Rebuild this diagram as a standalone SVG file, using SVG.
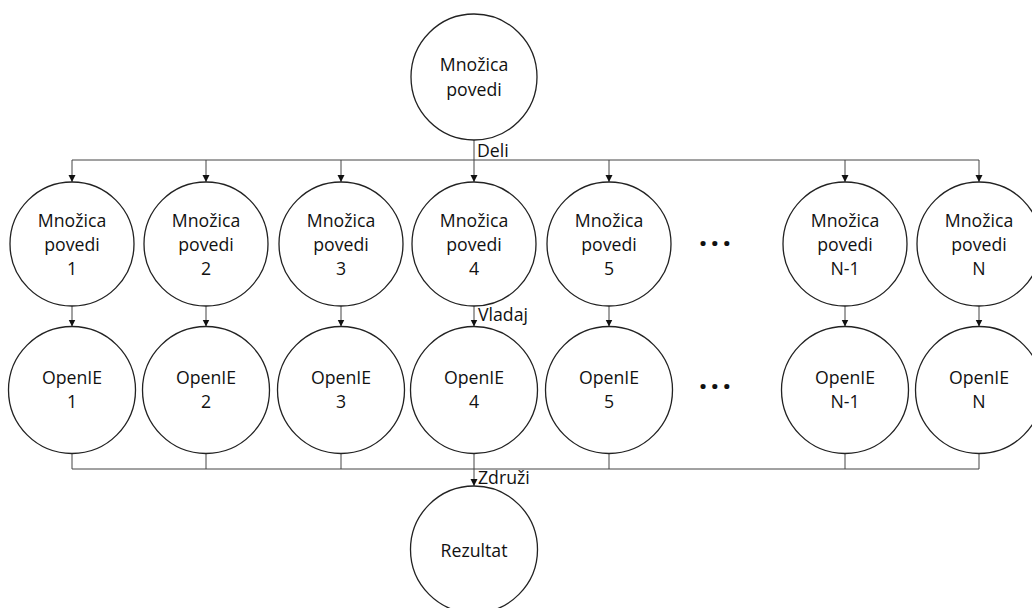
<svg xmlns="http://www.w3.org/2000/svg" width="1032" height="608" viewBox="0 0 1032 608">
  <defs>
    <marker id="arrow" markerUnits="userSpaceOnUse" markerWidth="8" markerHeight="8" refX="7" refY="3.5" orient="auto">
      <path d="M0,0 L7,3.5 L0,7 Z" fill="#111"/>
    </marker>
    <style>
      .node circle { fill: #fff; stroke: #222; stroke-width: 1.3; }
      .node text { font-family: "Open Sans", "Liberation Sans", sans-serif; font-size: 17.7px; fill: #111; text-anchor: middle; }
      .conn line, .conn path { stroke: #444; stroke-width: 1; fill: none; }
      .conn .arr { marker-end: url(#arrow); }
      .lbl { font-family: "Open Sans", "Liberation Sans", sans-serif; font-size: 17.7px; fill: #111; }
      .dots { font-family: "Open Sans", "Liberation Sans", sans-serif; font-size: 30px; font-weight: bold; fill: #111; letter-spacing: 3.3px; }
    </style>
  </defs>
  <rect width="1032" height="608" fill="#fff"/>

  <!-- connectors -->
  <g id="connectors" class="conn">
    <!-- split -->
    <line x1="474" y1="140" x2="474" y2="160"/>
    <line x1="72" y1="160" x2="979" y2="160"/>
    <line class="arr" x1="72" y1="160" x2="72" y2="182"/>
    <line class="arr" x1="206" y1="160" x2="206" y2="182"/>
    <line class="arr" x1="341" y1="160" x2="341" y2="182"/>
    <line class="arr" x1="474" y1="160" x2="474" y2="182"/>
    <line class="arr" x1="609" y1="160" x2="609" y2="182"/>
    <line class="arr" x1="845" y1="160" x2="845" y2="182"/>
    <line class="arr" x1="979" y1="160" x2="979" y2="182"/>
    <!-- conquer -->
    <line class="arr" x1="72" y1="306" x2="72" y2="326.5"/>
    <line class="arr" x1="206" y1="306" x2="206" y2="326.5"/>
    <line class="arr" x1="341" y1="306" x2="341" y2="326.5"/>
    <line class="arr" x1="474" y1="306" x2="474" y2="326.5"/>
    <line class="arr" x1="609" y1="306" x2="609" y2="326.5"/>
    <line class="arr" x1="845" y1="306" x2="845" y2="326.5"/>
    <line class="arr" x1="979" y1="306" x2="979" y2="326.5"/>
    <!-- merge -->
    <line x1="72" y1="453.5" x2="72" y2="469"/>
    <line x1="206" y1="453.5" x2="206" y2="469"/>
    <line x1="341" y1="453.5" x2="341" y2="469"/>
    <line x1="609" y1="453.5" x2="609" y2="469"/>
    <line x1="845" y1="453.5" x2="845" y2="469"/>
    <line x1="979" y1="453.5" x2="979" y2="469"/>
    <line x1="72" y1="469" x2="979" y2="469"/>
    <line class="arr" x1="474" y1="453.5" x2="474" y2="486"/>
    <text class="lbl" x="477" y="157">Deli</text>
    <text class="lbl" x="478" y="321">Vladaj</text>
    <text class="lbl" x="478" y="484">Združi</text>
  </g>

  <!-- source -->
  <g id="set-all" class="node">
    <circle cx="474" cy="77" r="63"/>
    <text x="474" y="71">Množica</text>
    <text x="474" y="96">povedi</text>
  </g>

  <!-- partitions -->
  <g id="set-1" class="node">
    <circle cx="72" cy="244" r="62"/>
    <text x="72" y="227">Množica</text><text x="72" y="251">povedi</text><text x="72" y="275">1</text>
  </g>
  <g id="set-2" class="node">
    <circle cx="206" cy="244" r="62"/>
    <text x="206" y="227">Množica</text><text x="206" y="251">povedi</text><text x="206" y="275">2</text>
  </g>
  <g id="set-3" class="node">
    <circle cx="341" cy="244" r="62"/>
    <text x="341" y="227">Množica</text><text x="341" y="251">povedi</text><text x="341" y="275">3</text>
  </g>
  <g id="set-4" class="node">
    <circle cx="474" cy="244" r="62"/>
    <text x="474" y="227">Množica</text><text x="474" y="251">povedi</text><text x="474" y="275">4</text>
  </g>
  <g id="set-5" class="node">
    <circle cx="609" cy="244" r="62"/>
    <text x="609" y="227">Množica</text><text x="609" y="251">povedi</text><text x="609" y="275">5</text>
  </g>
  <g id="set-n1" class="node">
    <circle cx="845" cy="244" r="62"/>
    <text x="845" y="227">Množica</text><text x="845" y="251">povedi</text><text x="845" y="275">N-1</text>
  </g>
  <g id="set-n" class="node">
    <circle cx="979" cy="244" r="62"/>
    <text x="979" y="227">Množica</text><text x="979" y="251">povedi</text><text x="979" y="275">N</text>
  </g>
  <text id="dots-sets" class="dots" x="698.7" y="246">...</text>

  <!-- extractors -->
  <g id="openie-1" class="node">
    <circle cx="72" cy="390" r="63.5"/>
    <text x="72" y="384">OpenIE</text><text x="72" y="408">1</text>
  </g>
  <g id="openie-2" class="node">
    <circle cx="206" cy="390" r="63.5"/>
    <text x="206" y="384">OpenIE</text><text x="206" y="408">2</text>
  </g>
  <g id="openie-3" class="node">
    <circle cx="341" cy="390" r="63.5"/>
    <text x="341" y="384">OpenIE</text><text x="341" y="408">3</text>
  </g>
  <g id="openie-4" class="node">
    <circle cx="474" cy="390" r="63.5"/>
    <text x="474" y="384">OpenIE</text><text x="474" y="408">4</text>
  </g>
  <g id="openie-5" class="node">
    <circle cx="609" cy="390" r="63.5"/>
    <text x="609" y="384">OpenIE</text><text x="609" y="408">5</text>
  </g>
  <g id="openie-n1" class="node">
    <circle cx="845" cy="390" r="63.5"/>
    <text x="845" y="384">OpenIE</text><text x="845" y="408">N-1</text>
  </g>
  <g id="openie-n" class="node">
    <circle cx="979" cy="390" r="63.5"/>
    <text x="979" y="384">OpenIE</text><text x="979" y="408">N</text>
  </g>
  <text id="dots-openie" class="dots" x="698.7" y="389">...</text>

  <!-- result -->
  <g id="result" class="node">
    <circle cx="474" cy="549.5" r="63.5"/>
    <text x="474" y="557">Rezultat</text>
  </g>
</svg>
